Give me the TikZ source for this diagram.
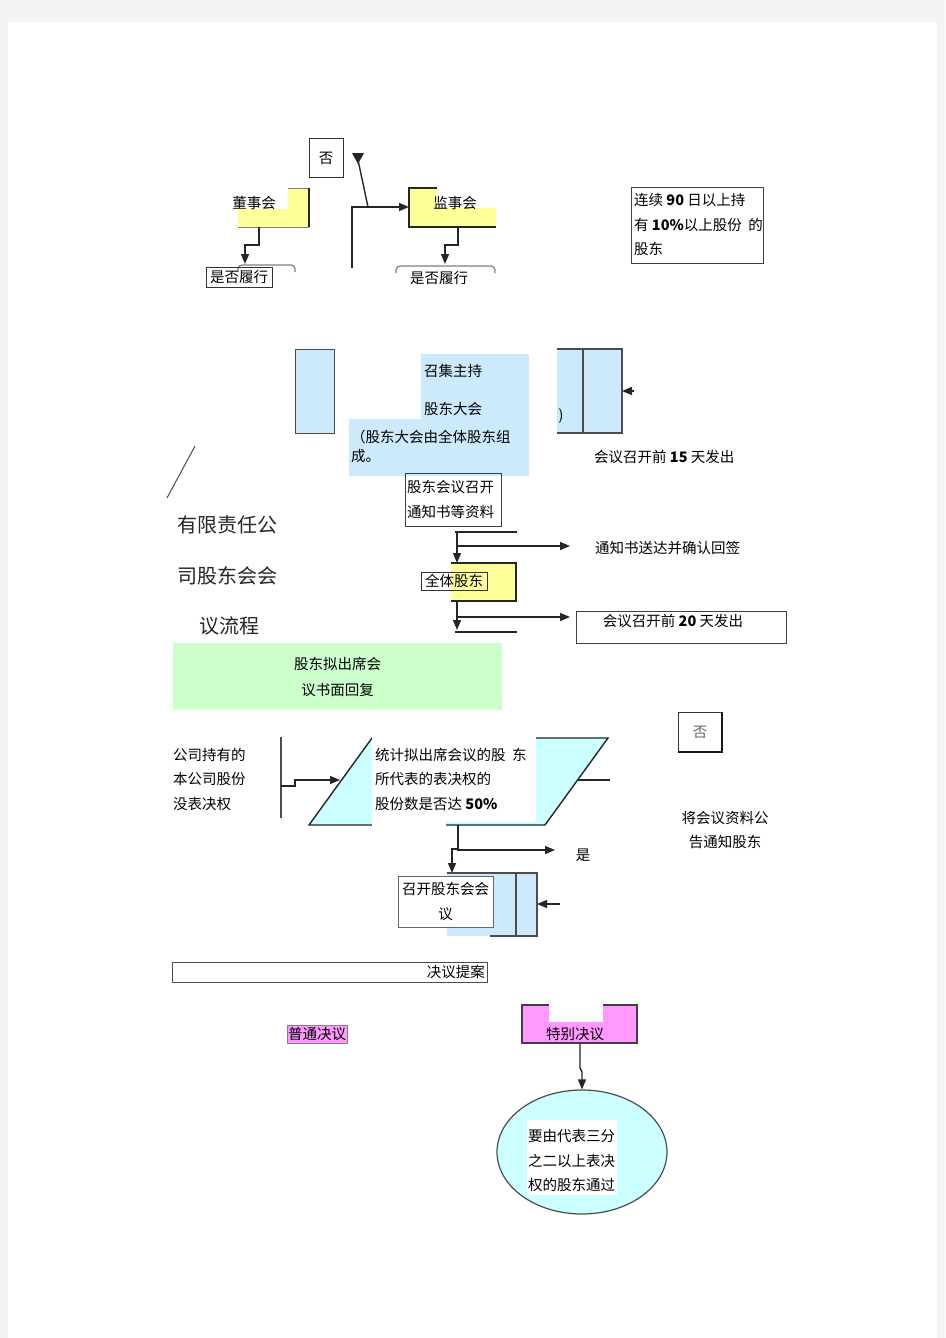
\documentclass[tikz,border=0pt]{standalone}
\usepackage{fontspec}
\newfontfamily\cjk{Noto Sans CJK SC}
\usepackage{xcolor}
\usepackage{tikz}
\usetikzlibrary{arrows.meta,positioning,shapes.geometric}

\definecolor{pagegray}{RGB}{243,243,243}
\definecolor{boxblue}{RGB}{204,234,252}
\definecolor{cyanbox}{RGB}{204,255,255}
\definecolor{yellowbox}{RGB}{255,255,153}
\definecolor{greenbox}{RGB}{204,255,204}
\definecolor{pinkbox}{RGB}{255,153,255}

\tikzset{
    txt/.style={font=\cjk\fontsize{14.5}{24.5}\selectfont, inner sep=0pt, align=left},
    lbl/.style={txt, anchor=west},
    tight/.style={font=\cjk\fontsize{14.5}{19}\selectfont, inner sep=0pt, align=left, anchor=west},
    bigtitle/.style={font=\cjk\fontsize{20}{24}\selectfont, text=black!85, inner sep=0pt},
    line/.style={draw=black!85, line width=1.4pt},
    arr/.style={line, -{Triangle[length=10pt,width=8pt]}}
}

\begin{document}
\begin{tikzpicture}[x=1pt,y=-1pt]
    % Page
    \fill[pagegray] (0,0) rectangle (945,1338);
    \fill[white] (8,22) rectangle (937,1338);
    \useasboundingbox (0,0) rectangle (945,1338);

    % Board and supervisors
    \node[txt, draw=black!80, line width=1pt, minimum width=34, minimum height=39] (fou1) at (326,158) {否};
    \fill[black!85] (352,153) -- (364,153) -- (358,164) -- cycle;
    \draw[line] (358,160) -- (368,207);

    \fill[yellowbox] (288,188) rectangle (309,227);
    \fill[yellowbox] (238,209) rectangle (309,227);
    \draw[gray, line width=1pt] (288,188) -- (309,188);
    \draw[line] (309,188) -- (309,227);
    \draw[gray, line width=1pt] (309,227) -- (238,227);
    \node[txt] (dongshi) at (254,203) {董事会};
    \draw[arr] (259,227) -- (259,245) -- (245,245) -- (245,264);
    \draw[gray, line width=1.2pt, rounded corners=4] (238,272) -- (238,265) -- (295,265) -- (295,272);
    \node[txt, draw=black!80, inner xsep=4pt, inner ysep=3pt] (lvxing1) at (239,277) {是否履行};

    \fill[yellowbox] (409,188) rectangle (496,227);
    \fill[white] (437,187) rectangle (497,208);
    \draw[line] (437,188) -- (409,188) -- (409,227) -- (496,227);
    \node[txt] (jianshi) at (455,203) {监事会};
    \coordinate (jsIn) at (409,207);
    \draw[arr] (352,268) -- (352,207) -- (jsIn);
    \draw[arr] (458,227) -- (458,245) -- (445,245) -- (445,264);
    \draw[gray, line width=1.2pt, rounded corners=4] (396,273) -- (396,266) -- (495,266) -- (495,273);
    \node[txt] (lvxing2) at (439,278) {是否履行};

    \node[draw=black!75, minimum width=132, minimum height=76, anchor=north west] (chixu) at (631,187) {};
    \node[lbl] (chixuTxt) at (634,225)
        {\mbox{连续~\textbf{90}~日以上持}\\\mbox{有~\textbf{10\%}以上股份~~的}\\股东};

    % Shareholders meeting
    \node[draw=black!70, fill=boxblue, minimum width=39, minimum height=84, anchor=north west] (lblue) at (295,349) {};
    \fill[boxblue] (421,354) rectangle (529,476);
    \fill[boxblue] (349,419) rectangle (529,476);
    \node[lbl] (zhaoji) at (424,371) {召集主持};
    \node[lbl] (gddh) at (424,409) {股东大会};
    \node[tight] (zucheng) at (351,446) {（股东大会由全体股东组\\成。};

    \fill[boxblue] (557,349) rectangle (622,433);
    \draw[line, draw=black!70] (557,349) -- (622,349) -- (622,433) -- (557,433);
    \draw[line, draw=black!70] (583,349) -- (583,433);
    \node[txt] (paren) at (561,416) {)};
    \coordinate (rIn) at (622,391);
    \draw[arr] (634,391) -- (rIn);
    \node[lbl] (shiwu) at (594,457) {会议召开前 \textbf{15} 天发出};

    % Title
    \draw[black!70, line width=1pt] (195,446) -- (167,498);
    \node[bigtitle] (t1) at (227,525) {有限责任公};
    \node[bigtitle] (t2) at (227,576) {司股东会会};
    \node[bigtitle] (t3) at (229,626) {议流程};

    % Notice
    \node[txt, draw=black!75, anchor=north west, minimum width=96, minimum height=53, text width=92] (tongzhi) at (405,473)
        {股东会议召开\\通知书等资料};
    \draw[line] (455,532) -- (517,532);
    \draw[arr] (457,532) -- (457,563);
    \draw[arr] (457,546) -- (570,546);
    \node[lbl] (qianshou) at (595,548) {通知书送达并确认回签};

    \fill[yellowbox] (451,563) rectangle (516,601);
    \draw[line] (451,563) -- (516,563) -- (516,601) -- (451,601);
    \node[txt, draw=black!80, inner xsep=4pt, inner ysep=2pt] (quanti) at (454,581) {全体股东};
    \draw[arr] (457,601) -- (457,630);
    \draw[arr] (457,617) -- (570,617);
    \draw[line] (455,632) -- (517,632);
    \node[draw=black!75, minimum width=210, minimum height=32, anchor=north west] (ershi) at (576,611) {};
    \node[txt] (ershiTxt) at (673,621) {会议召开前 \textbf{20} 天发出};

    \node[txt, fill=greenbox, minimum width=329, minimum height=67, anchor=north west, align=center, font=\cjk\fontsize{14.5}{26}\selectfont] (huifu) at (173,643)
        {股东拟出席会\\议书面回复};

    % Counting votes
    \node[lbl] (wubiaojue) at (173,779) {公司持有的\\本公司股份\\没表决权};
    \draw[line, draw=black!70] (281,737) -- (281,818);
    \draw[arr] (281,786) -- (295,786) -- (295,780) -- (340,780);

    \draw[line, fill=cyanbox] (309,825) -- (372,738) -- (608,738) -- (545,825) -- cycle;
    \fill[white] (372,736) rectangle (536,822);
    \fill[white] (372,820) rectangle (446,828);
    \node[lbl] (tongji) at (375,779) {统计拟出席会议的股~~东\\所代表的表决权的\\股份数是否达 \textbf{50\%}};
    \draw[line] (578,780) -- (610,780);

    \draw[arr] (458,825) -- (458,849) -- (452,849) -- (452,873);
    \draw[arr] (457,850) -- (555,850);
    \node[txt] (shi) at (583,855) {是};

    \node[txt, draw=black!80, line width=1pt, minimum width=44, minimum height=40, text=black!60] (fou2) at (700,732) {否};
    \draw[black!90, line width=1.5pt] (722,712) -- (722,752) -- (678,752);
    \node[txt, align=center, font=\cjk\fontsize{14.5}{24}\selectfont] (gonggao) at (725,830) {将会议资料公\\告通知股东};

    \fill[boxblue] (447,873) rectangle (537,936);
    \draw[line, draw=black!70] (447,873) -- (537,873) -- (537,936) -- (490,936);
    \draw[line, draw=black!70] (516,873) -- (516,936);
    \node[txt, draw=black!60, fill=white, anchor=north west, minimum width=95, minimum height=51, align=center] (zhaokai) at (398,876)
        {召开股东会会\\议};
    \coordinate (zkIn) at (537,904);
    \draw[arr] (560,904) -- (zkIn);

    % Resolutions
    \node[draw=black!70, minimum width=315, minimum height=20, anchor=north west] (tian) at (172,962) {};
    \node[txt, anchor=east] (tianTxt) at (485,972) {决议提案};
    \node[txt, fill=pinkbox, draw=black!50, inner xsep=1pt, inner ysep=2pt] (putong) at (317,1034) {普通决议};

    \fill[pinkbox] (522,1005) rectangle (637,1043);
    \fill[white] (549,1004) rectangle (603,1022);
    \draw[line, draw=black!75] (549,1005) -- (522,1005) -- (522,1043) -- (637,1043) -- (637,1005) -- (603,1005);
    \node[txt] (tebie) at (575,1034) {特别决议};

    \node[draw=black!70, fill=cyanbox, ellipse, minimum width=170, minimum height=124, line width=1.2pt] (yaoqiu) at (582,1152) {};
    \draw[arr] (580,1043) -- (580,1068) -- (582,1072) -- (yaoqiu.north);
    \fill[white] (527,1120) rectangle (617,1195);
    \node[lbl] (sanfen) at (528,1161) {要由代表三分\\之二以上表决\\权的股东通过};
\end{tikzpicture}
\end{document}
